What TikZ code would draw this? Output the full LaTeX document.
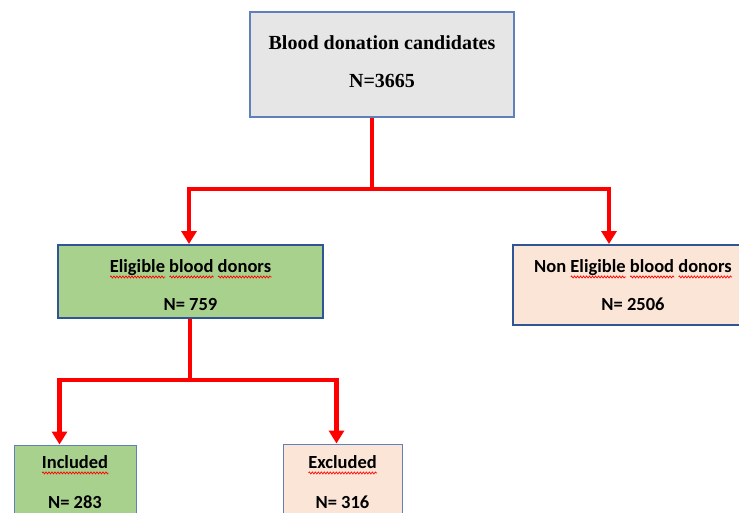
\documentclass[tikz,border=0pt]{standalone}
\usepackage{fontspec}
\setmainfont{Liberation Serif}
\newfontfamily\carlito{Carlito}
\usetikzlibrary{arrows.meta, decorations.pathmorphing}
\definecolor{colRed}{RGB}{255,0,0}
\definecolor{colGrey}{RGB}{231,230,230}
\definecolor{colGreen}{RGB}{169,209,142}
\definecolor{colPeach}{RGB}{251,229,214}
\definecolor{colEdge}{RGB}{47,85,151}
\definecolor{colEdgeLight}{RGB}{95,128,184}

% soulignement rouge ondulé (correcteur orthographique)
\newlength{\spellwd}
\newcommand{\spellmark}[1]{\settowidth{\spellwd}{#1}%
    \rlap{\tikz[baseline=0pt, x=1pt, y=1pt]
        \draw[colRed, line width=0.7pt, decorate,
              decoration={zigzag, segment length=3pt, amplitude=1pt}]
        (0,-4.5) -- (\spellwd,-4.5);}#1}

\begin{document}
\begin{tikzpicture}[x=1pt, y=-1pt,
    >={Triangle[width=15pt,length=13pt]},
    link/.style={->, colRed, line width=4.5pt},
    box/.style={rectangle, align=center, inner sep=0pt},
    boxtop/.style={box, draw=colEdgeLight, line width=1.2pt, fill=colGrey,
        font=\fontsize{20}{24}\selectfont\bfseries},
    boxmid/.style={box, draw=colEdge, line width=2pt,
        font=\carlito\fontsize{18.5}{22}\selectfont\bfseries},
    boxlow/.style={box, draw=colEdgeLight, line width=1pt,
        font=\carlito\fontsize{18.5}{22}\selectfont\bfseries}]

\clip (0,0) rectangle (739,512);

% Boîtes
\node[boxtop, minimum width=264, minimum height=105] (cand) at (382,64.5)
    {Blood donation candidates\\[14pt]N=3665\rule[-6pt]{0pt}{1pt}};

\node[boxmid, fill=colGreen, minimum width=265, minimum height=73] (elig) at (190.5,281.5)
    {\rule{0pt}{20pt}\spellmark{Eligible} \spellmark{blood} \spellmark{donors}\\[16pt]N= 759};

\node[boxmid, fill=colPeach, minimum width=240, minimum height=80] (nonelig) at (633,285)
    {Non \spellmark{Eligible} \spellmark{blood} \spellmark{donors}\\[16pt]N= 2506};

\node[boxlow, fill=colGreen, minimum width=122, minimum height=74] (incl) at (75,482)
    {\spellmark{Included}\\[18pt]N= 283};

\node[boxlow, fill=colPeach, minimum width=119, minimum height=76] (excl) at (342.5,482)
    {\spellmark{Excluded}\\[18pt]N= 316};

% Points de branchement
\coordinate (split1) at (372,189);
\coordinate (split2) at (190,380);

% Flèches rouges
\draw[colRed, line width=4.5pt] (cand.south -| split1) -- (split1);
\draw[link] (split1) -| ([xshift=-1.5]elig.north);
\draw[link] (split1) -| ([xshift=97]nonelig.north west);
\draw[colRed, line width=4.5pt] (elig.south -| split2) -- (split2);
\draw[link] (split2) -| ([xshift=46]incl.north west);
\draw[link] (split2) -| ([xshift=54]excl.north west);

\end{tikzpicture}
\end{document}
